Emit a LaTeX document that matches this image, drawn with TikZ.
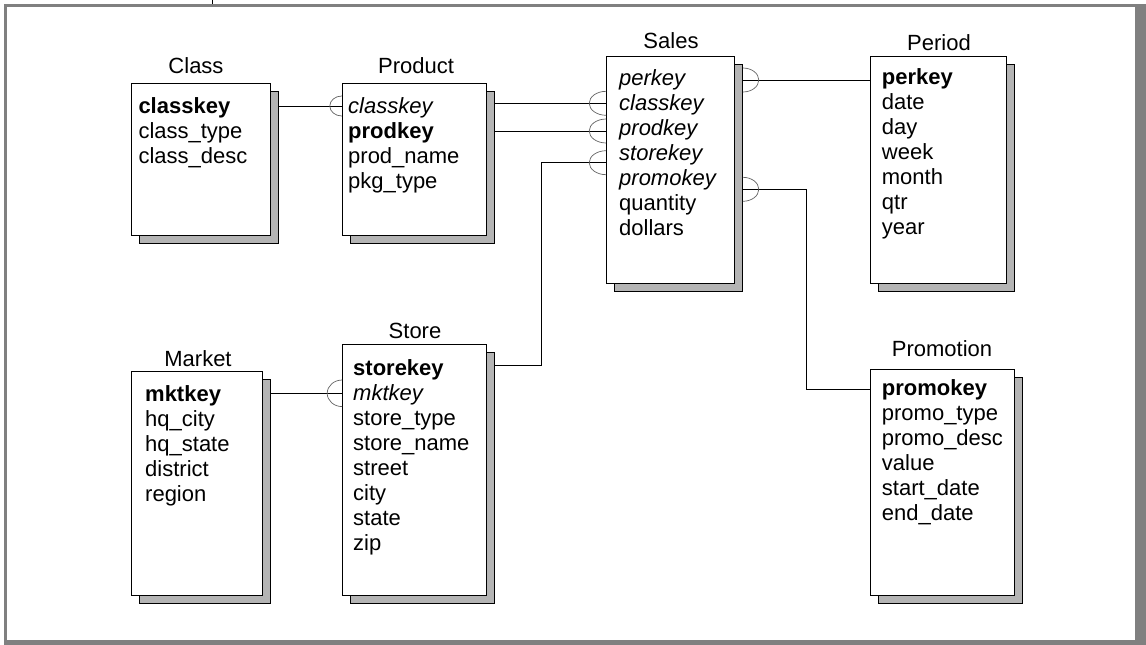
\documentclass[tikz,border=0pt]{standalone}
\usepackage{fontspec}
\setmainfont{Liberation Sans}
\usetikzlibrary{shadows}
\definecolor{framegray}{RGB}{128,128,128}
\definecolor{shadowgray}{RGB}{180,180,180}
\definecolor{crowgray}{RGB}{100,100,100}

\begin{document}
\begin{tikzpicture}[x=1pt,y=1pt]
\tikzstyle{every node}+=[inner sep=0pt, font=\fontsize{22}{25}\selectfont]
\tikzstyle{tablebox}=[draw=black, fill=white, line width=1pt,
  drop shadow={shadow xshift=8pt, shadow yshift=-8pt, fill=shadowgray, draw=black, line width=1pt, opacity=1}]
\tikzstyle{title}=[anchor=base]
\tikzstyle{row}=[anchor=base west]
\tikzstyle{link}=[black, line width=1pt, shorten <=8pt]
\tikzstyle{crow}=[draw=crowgray, line width=0.7pt]
\useasboundingbox (0,0) rectangle (1146,-645);
\fill [framegray] (4,-4) rectangle (1146,-645);
\fill [white] (7,-7) rectangle (1135,-640);
\draw [black, line width=1pt] (212,0) -- (212,-4);
% Class
\node [tablebox, minimum width=139pt, minimum height=151.7pt] (class) at (201.2,-159.15) {};
\node [title] (class-t) at (196,-73.3) {Class};
\node [row] (class-1) at (138.3,-113.3) {\textbf{classkey}};
\node [row] (class-2) at (138.3,-138.3) {class\_type};
\node [row] (class-3) at (138.3,-163.3) {class\_desc};
% Product
\node [tablebox, minimum width=144pt, minimum height=151.7pt] (product) at (414.3,-159.15) {};
\node [title] (product-t) at (416,-73.3) {Product};
\node [row] (product-1) at (348,-113.3) {\textit{classkey}};
\node [row] (product-2) at (348,-138.3) {\textbf{prodkey}};
\node [row] (product-3) at (348,-163.3) {prod\_name};
\node [row] (product-4) at (348,-188.3) {pkg\_type};
% Sales
\node [tablebox, minimum width=127.6pt, minimum height=226.6pt] (sales) at (670.5,-170) {};
\node [title] (sales-t) at (671,-48.3) {Sales};
\node [row] (sales-1) at (619,-85) {\textit{perkey}};
\node [row] (sales-2) at (619,-110) {\textit{classkey}};
\node [row] (sales-3) at (619,-135) {\textit{prodkey}};
\node [row] (sales-4) at (619,-160) {\textit{storekey}};
\node [row] (sales-5) at (619,-185) {\textit{promokey}};
\node [row] (sales-6) at (619,-210) {quantity};
\node [row] (sales-7) at (619,-235) {dollars};
% Period
\node [tablebox, minimum width=136pt, minimum height=226.6pt] (period) at (938.7,-170) {};
\node [title] (period-t) at (939,-50) {Period};
\node [row] (period-1) at (881.7,-84) {\textbf{perkey}};
\node [row] (period-2) at (881.7,-109) {date};
\node [row] (period-3) at (881.7,-134) {day};
\node [row] (period-4) at (881.7,-159) {week};
\node [row] (period-5) at (881.7,-184) {month};
\node [row] (period-6) at (881.7,-209) {qtr};
\node [row] (period-7) at (881.7,-234) {year};
% Market
\node [tablebox, minimum width=131pt, minimum height=224pt] (market) at (197.2,-483.7) {};
\node [title] (market-t) at (198,-366) {Market};
\node [row] (market-1) at (145,-401) {\textbf{mktkey}};
\node [row] (market-2) at (145,-426) {hq\_city};
\node [row] (market-3) at (145,-451) {hq\_state};
\node [row] (market-4) at (145,-476) {district};
\node [row] (market-5) at (145,-501) {region};
% Store
\node [tablebox, minimum width=144pt, minimum height=251pt] (store) at (414.7,-470.2) {};
\node [title] (store-t) at (415,-338) {Store};
\node [row] (store-1) at (353,-375) {\textbf{storekey}};
\node [row] (store-2) at (353,-400) {\textit{mktkey}};
\node [row] (store-3) at (353,-425) {store\_type};
\node [row] (store-4) at (353,-450) {store\_name};
\node [row] (store-5) at (353,-475) {street};
\node [row] (store-6) at (353,-500) {city};
\node [row] (store-7) at (353,-525) {state};
\node [row] (store-8) at (353,-550) {zip};
% Promotion
\node [tablebox, minimum width=143.6pt, minimum height=226.7pt] (promotion) at (942.5,-482.35) {};
\node [title] (promotion-t) at (942,-356.7) {Promotion};
\node [row] (promotion-1) at (881.7,-395.7) {\textbf{promokey}};
\node [row] (promotion-2) at (881.7,-420.7) {promo\_type};
\node [row] (promotion-3) at (881.7,-445.7) {promo\_desc};
\node [row] (promotion-4) at (881.7,-470.7) {value};
\node [row] (promotion-5) at (881.7,-495.7) {start\_date};
\node [row] (promotion-6) at (881.7,-520.7) {end\_date};
% links
\coordinate (storebend) at (541.7,-162.7);
\coordinate (promobend) at (806.7,-189.3);
\draw [link] (class.east |- 0,-106) -- (product.west |- 0,-106);
\draw [link] (product.east |- 0,-103.3) -- (sales.west |- 0,-103.3);
\draw [link] (product.east |- 0,-131) -- (sales.west |- 0,-131);
\draw [link] (store.east |- 0,-365) -| (storebend) -- (sales.west |- storebend);
\draw [link] (sales.east |- 0,-80) -- (period.west |- 0,-80);
\draw [link] (sales.east |- promobend) -- (promobend) |- (promotion.west |- 0,-389);
\draw [link] (market.east |- 0,-393.3) -- (store.west |- 0,-393.3);
% crow's feet
\draw [crow] (product.west |- 0,-96) arc (90:270:12 and 10);
\draw [crow] (sales.west |- 0,-91.3) arc (90:270:17 and 12);
\draw [crow] (sales.west |- 0,-119) arc (90:270:17 and 12);
\draw [crow] (sales.west |- 0,-150.7) arc (90:270:17 and 12);
\draw [crow] (sales.east |- 0,-68) ++(8,0) arc (90:-90:16 and 12);
\draw [crow] (sales.east |- 0,-177.3) ++(8,0) arc (90:-90:16 and 12);
\draw [crow] (store.west |- 0,-380) arc (90:270:15 and 13.3);
\end{tikzpicture}
\end{document}
